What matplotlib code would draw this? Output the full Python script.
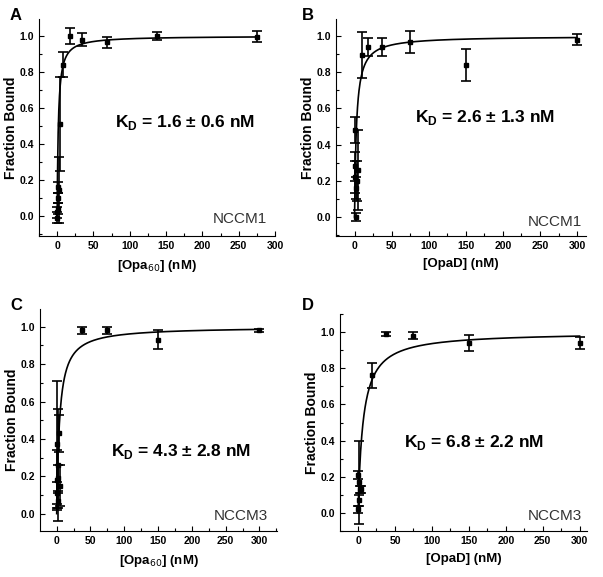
import numpy as np
import matplotlib
matplotlib.use("Agg")
import matplotlib.pyplot as plt
from matplotlib.ticker import MultipleLocator

plt.rcParams['font.family'] = ['Liberation Sans', 'DejaVu Sans']

# panel A: Opa60 vs NCCM1
a_x = [0.2, 0.4, 0.8, 1.2, 1.6, 2.4, 4.1, 8.6, 17.2, 34.4, 68.8, 137.5, 275]
a_y = [-0.01, 0.02, 0.04, 0.10, 0.16, 0.145, 0.51, 0.84, 1.00, 0.98, 0.965, 1.00, 0.995]
a_err = [0.03, 0.03, 0.03, 0.03, 0.03, 0.185, 0.26, 0.07, 0.045, 0.035, 0.03, 0.02, 0.03]
a_kd = 1.6

# panel B: OpaD vs NCCM1
b_x = [0.3, 0.6, 1.2, 1.8, 2.3, 3.5, 4.7, 9.4, 18.75, 37.5, 75, 150, 300]
b_y = [0.48, 0.28, 0.22, 0.16, 0.00, 0.20, 0.26, 0.895, 0.94, 0.94, 0.965, 0.84, 0.98]
b_err = [0.07, 0.08, 0.09, 0.06, 0.02, 0.11, 0.22, 0.125, 0.05, 0.05, 0.06, 0.09, 0.03]
b_kd = 2.6

# panel C: Opa60 vs NCCM3
c_x = [0.3, 0.6, 0.9, 1.2, 1.8, 2.3, 3.5, 4.7, 37.5, 75, 150, 300]
c_y = [0.18, 0.11, 0.37, 0.26, 0.07, 0.19, 0.43, 0.15, 0.98, 0.98, 0.93, 0.98]
c_err = [0.16, 0.06, 0.34, 0.30, 0.04, 0.07, 0.10, 0.11, 0.02, 0.02, 0.05, 0.01]
c_kd = 4.3

# panel D: OpaD vs NCCM3
d_x = [0.3, 0.6, 1.2, 1.8, 2.3, 4.7, 18.75, 37.5, 75, 150, 300]
d_y = [0.21, 0.02, 0.17, 0.07, 0.13, 0.13, 0.76, 0.99, 0.98, 0.94, 0.94]
d_err = [0.02, 0.02, 0.23, 0.03, 0.02, 0.02, 0.07, 0.01, 0.02, 0.045, 0.035]
d_kd = 6.8

panels = [
    dict(letter="A", x=a_x, y=a_y, err=a_err, kd=a_kd, kd_txt="1.6 \u00b1 0.6 nM",
         xlabel=r"[Opa$_{60}$] (nM)", cell="NCCM1",
         rect=[39, 19, 275, 236], xlim=(-25, 300), ylim=(-0.111, 1.094),
         kd_pos=(79, 0.52), cell_pos=(289, -0.015), letter_pos=(10, 8), xmax=275),
    dict(letter="B", x=b_x, y=b_y, err=b_err, kd=b_kd, kd_txt="2.6 \u00b1 1.3 nM",
         xlabel="[OpaD] (nM)", cell="NCCM1",
         rect=[336, 19, 586, 236], xlim=(-25, 312), ylim=(-0.105, 1.094),
         kd_pos=(82, 0.55), cell_pos=(306, -0.026), letter_pos=(302, 8), xmax=300),
    dict(letter="C", x=c_x, y=c_y, err=c_err, kd=c_kd, kd_txt="4.3 \u00b1 2.8 nM",
         xlabel=r"[Opa$_{60}$] (nM)", cell="NCCM3",
         rect=[40, 309, 277, 531], xlim=(-24.7, 326), ylim=(-0.093, 1.095),
         kd_pos=(80, 0.33), cell_pos=(313, -0.013), letter_pos=(10, 298), xmax=300),
    dict(letter="D", x=d_x, y=d_y, err=d_err, kd=d_kd, kd_txt="6.8 \u00b1 2.2 nM",
         xlabel="[OpaD] (nM)", cell="NCCM3",
         rect=[340, 314, 587, 531], xlim=(-24.4, 310), ylim=(-0.10, 1.10),
         kd_pos=(62, 0.39), cell_pos=(303.5, -0.018), letter_pos=(302, 298), xmax=300),
]

W, H = 603, 577
fig = plt.figure(figsize=(W / 100, H / 100), dpi=100)

for p in panels:
    l, t, r, b = p["rect"]
    ax = fig.add_axes([l / W, 1 - b / H, (r - l) / W, (b - t) / H])

    # one-site binding fit from the reported KD
    xf = np.linspace(0, p["xmax"], 600)
    ax.plot(xf, xf / (p["kd"] + xf), color="black", lw=1.2)

    ax.errorbar(p["x"], p["y"], yerr=p["err"], fmt="s", color="black",
                ms=3.2, capsize=3.5, elinewidth=1.2, capthick=1.2)

    ax.set_xlim(*p["xlim"])
    ax.set_ylim(*p["ylim"])
    ax.spines["top"].set_visible(False)
    ax.spines["right"].set_visible(False)
    ax.xaxis.set_major_locator(MultipleLocator(50))
    ax.xaxis.set_minor_locator(MultipleLocator(25))
    ax.yaxis.set_major_locator(MultipleLocator(0.2))
    ax.yaxis.set_minor_locator(MultipleLocator(0.1))
    ax.yaxis.set_major_formatter(plt.FuncFormatter(lambda v, pos: f"{v:.1f}"))
    ax.tick_params(which="major", direction="in", length=3.5, width=0.8,
                   labelsize=7.5)
    ax.tick_params(which="minor", direction="in", length=2, width=0.8)
    for lab in ax.get_xticklabels() + ax.get_yticklabels():
        lab.set_fontweight("bold")

    ax.set_xlabel(p["xlabel"], fontsize=9.5, fontweight="bold", labelpad=5)
    ax.set_ylabel("Fraction Bound", fontsize=10, fontweight="bold", labelpad=1)

    ax.text(p["kd_pos"][0], p["kd_pos"][1],
            r"K$_\mathregular{D}$ = " + p["kd_txt"],
            fontsize=12.5, fontweight="bold", ha="left", va="center")
    ax.text(p["cell_pos"][0], p["cell_pos"][1], p["cell"],
            fontsize=11, color="#333333", ha="right", va="center")

    fig.text(p["letter_pos"][0] / W, 1 - p["letter_pos"][1] / H, p["letter"],
             fontsize=12, fontweight="bold", ha="left", va="top")

fig.savefig("out.png", dpi=100)
